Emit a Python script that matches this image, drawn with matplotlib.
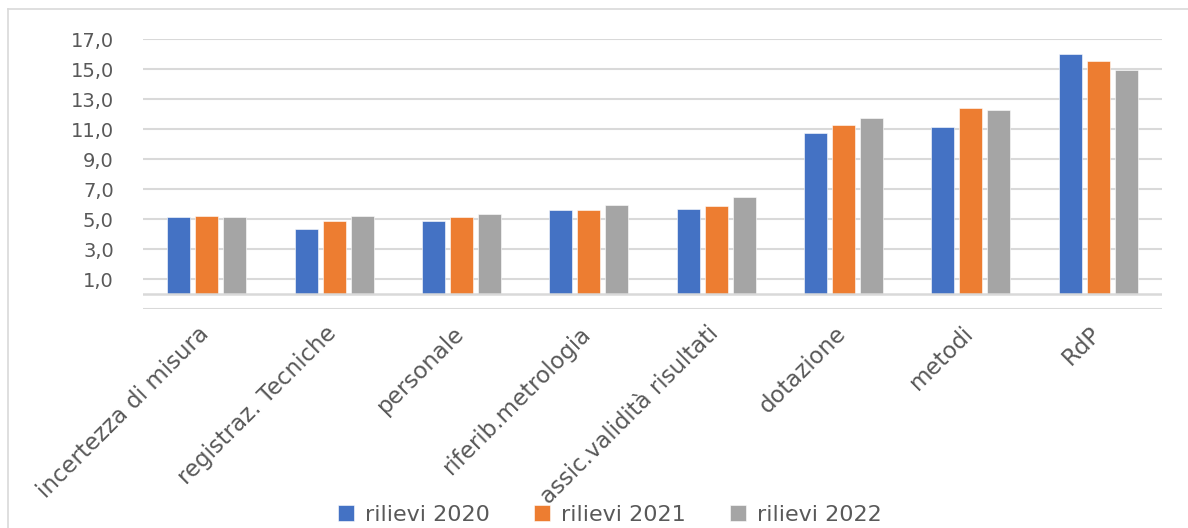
import matplotlib.pyplot as plt
import matplotlib.transforms as mtransforms
import numpy as np
from matplotlib.lines import Line2D

categories = ["incertezza di misura", "registraz. Tecniche", "personale",
              "riferib.metrologia", "assic.validità risultati", "dotazione",
              "metodi", "RdP"]
rilievi_2020 = [5.16, 4.36, 4.89, 5.6, 5.69, 10.76, 11.13, 16.02]
rilievi_2021 = [5.25, 4.89, 5.16, 5.6, 5.87, 11.29, 12.4, 15.56]
rilievi_2022 = [5.16, 5.25, 5.33, 5.96, 6.49, 11.76, 12.31, 14.93]
series_names = ["rilievi 2020", "rilievi 2021", "rilievi 2022"]
colors = ["#4472C4", "#ED7D31", "#A5A5A5"]
y_ticks = [1, 3, 5, 7, 9, 11, 13, 15, 17]

text_color = "#595959"
grid_color = "#D9D9D9"

fig = plt.figure(figsize=(11.88, 5.28), dpi=100)
ax = fig.add_axes([143 / 1188, 1 - 309.3 / 528, (1162 - 143) / 1188, 270 / 528])

# light border of the chart area (only top and left edges are in view)
bx, by = 8 / 1188, 1 - 9 / 528
fig.lines.append(Line2D([bx, 1.0], [by, by], transform=fig.transFigure,
                        color=grid_color, linewidth=1.2))
fig.lines.append(Line2D([bx, bx], [0, by], transform=fig.transFigure,
                        color=grid_color, linewidth=1.2))

x = np.arange(len(categories))
width = 0.18
pitch = 0.22
for i, (vals, name, c) in enumerate(zip([rilievi_2020, rilievi_2021, rilievi_2022],
                                         series_names, colors)):
    ax.bar(x + (i - 1) * pitch, vals, width, color=c, label=name, zorder=3,
           edgecolor="white", linewidth=0.4)

ax.set_xlim(-0.5, len(categories) - 0.5)
ax.set_ylim(-1, 17)
ax.set_yticks(y_ticks)
ax.set_yticklabels([f"{v:.1f}".replace(".", ",") for v in y_ticks])
for g in [-1] + y_ticks:
    ax.axhline(g, color=grid_color, linewidth=1.5, zorder=1)
ax.axhline(0, color=grid_color, linewidth=1.8, zorder=4)

for s in ax.spines.values():
    s.set_visible(False)

ax.tick_params(axis="y", length=0, pad=21, labelsize=14, labelcolor=text_color)
ax.tick_params(axis="x", length=0, pad=9, labelsize=16.5, labelcolor=text_color)
ax.set_xticks(x)
ax.set_xticklabels(categories, rotation=45, ha="right", va="top",
                   rotation_mode="anchor")
shift = mtransforms.ScaledTranslation(-9 / 100, 0, fig.dpi_scale_trans)
for lab in ax.get_xticklabels():
    lab.set_transform(lab.get_transform() + shift)

leg = fig.legend(loc="center", bbox_to_anchor=(610 / 1188, 1 - 515 / 528),
                 ncol=3, frameon=False, fontsize=16, handlelength=0.7,
                 handleheight=0.7, columnspacing=2.0, handletextpad=0.5)
for t in leg.get_texts():
    t.set_color(text_color)

fig.savefig("out.png", dpi=100)
